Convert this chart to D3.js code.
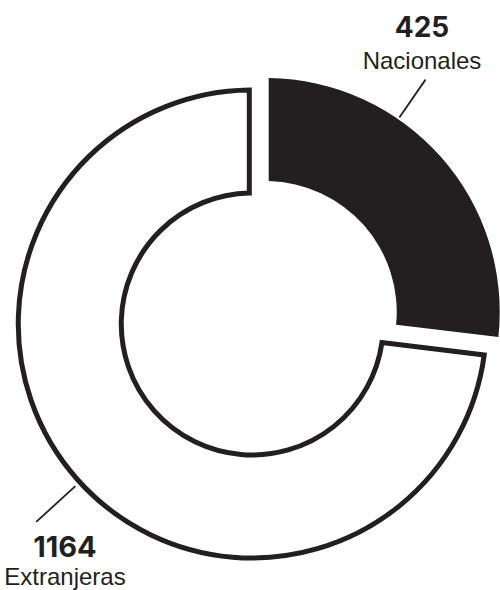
<!DOCTYPE html>
<html>
<head>
<meta charset="utf-8">
<script src="https://cdn.jsdelivr.net/npm/d3@7"></script>
<style>
  html, body { margin: 0; padding: 0; background: #fff; }
  svg { display: block; }
</style>
</head>
<body>
<script>
// ---- data ----
const categories = ["Nacionales", "Extranjeras"];
const values = [425, 1164];
const valueLabels = ["425", "1164"];

// ---- layout ----
const W = 500, H = 590;
const ink = "#231f20";
const cx = 259, cy = 318;
const outerR = 234, innerR = 131;
const explode = 9;

const svg = d3.select("body").append("svg")
  .attr("width", W).attr("height", H);

const pie = d3.pie().sort(null).value(d => d).padAngle(0.022);
const arcs = pie(values);
const arc = d3.arc().innerRadius(innerR).outerRadius(outerR);

const fills = ["#231f20", "#ffffff"];

const offset = d => {
  const a = (d.startAngle + d.endAngle) / 2;
  return [cx + explode * Math.sin(a), cy - explode * Math.cos(a)];
};

const g = svg.append("g");
g.selectAll("path.slice")
  .data(arcs)
  .join("path")
  .attr("class", "slice")
  .attr("transform", d => `translate(${offset(d)[0]},${offset(d)[1]})`)
  .attr("d", arc)
  .attr("fill", (d, i) => fills[i])
  .attr("stroke", (d, i) => i === 0 ? "none" : ink)
  .attr("stroke-width", 5)
  .attr("stroke-linejoin", "miter");

// ---- leader lines & labels ----
const leaderAngles = [34.5, 227.5]; // degrees clockwise from top
const leaderRadii = [[236, 282], [240, 293]];
const labelPos = [
  { x: 422, yNum: 37, yCat: 69 },
  { x: 65, yNum: 557, yCat: 585 }
];
const numSizes = [28, 29];

arcs.forEach((d, i) => {
  const [ox, oy] = offset(d);
  const a = leaderAngles[i] * Math.PI / 180;
  const [r0, r1] = leaderRadii[i];
  svg.append("line")
    .attr("x1", ox + r0 * Math.sin(a)).attr("y1", oy - r0 * Math.cos(a))
    .attr("x2", ox + r1 * Math.sin(a)).attr("y2", oy - r1 * Math.cos(a))
    .attr("stroke", ink).attr("stroke-width", 1.8);

  svg.append("text")
    .attr("x", labelPos[i].x).attr("y", labelPos[i].yNum)
    .attr("text-anchor", "middle")
    .attr("font-family", "Inter, 'DejaVu Sans', sans-serif")
    .attr("font-weight", 700)
    .attr("font-size", numSizes[i])
    .attr("fill", ink)
    .text(valueLabels[i]);

  svg.append("text")
    .attr("x", labelPos[i].x).attr("y", labelPos[i].yCat)
    .attr("text-anchor", "middle")
    .attr("font-family", "'Liberation Sans', Arial, sans-serif")
    .attr("font-size", 24)
    .attr("fill", ink)
    .text(categories[i]);
});
</script>
</body>
</html>
